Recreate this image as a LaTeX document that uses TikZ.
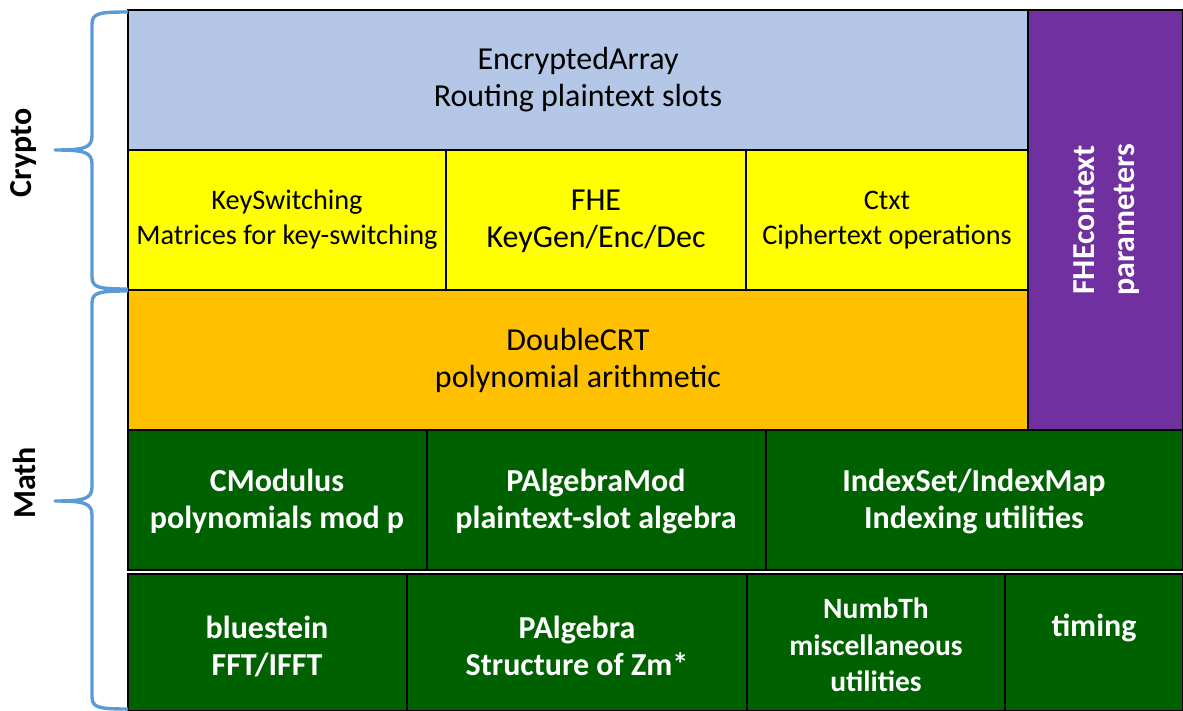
\documentclass[tikz,border=0pt]{standalone}
\usepackage{fontspec}
\setmainfont{Carlito}
\begin{document}
\begin{tikzpicture}[x=1pt,y=-1pt,
  cell/.style={draw=black,line width=1.6pt},
  lbl/.style={align=center,font=\fontsize{32}{37}\selectfont},
  slbl/.style={align=center,font=\fontsize{28.3}{35}\selectfont},
  glbl/.style={align=center,text=white,font=\fontsize{32}{37}\selectfont\bfseries},
  nlbl/.style={align=center,text=white,font=\fontsize{29.5}{36.5}\selectfont\bfseries},
  plbl/.style={align=center,text=white,font=\fontsize{32}{40}\selectfont\bfseries},
  brace/.style={draw=braceblue,line width=3.4pt,line join=round},
  side/.style={rotate=90,font=\fontsize{32}{36}\selectfont\bfseries}
]
\definecolor{lblue}{HTML}{B4C7E7}
\definecolor{yel}{HTML}{FFFF00}
\definecolor{orng}{HTML}{FFC000}
\definecolor{purp}{HTML}{7030A0}
\definecolor{grn}{HTML}{006100}
\definecolor{braceblue}{HTML}{5B9BD5}
\useasboundingbox (0,0) rectangle (1183,711);
% crypto layers
\filldraw[cell,fill=lblue] (128,10) rectangle (1028,150);
\node[lbl] (ea) at (578,80) {EncryptedArray\\Routing plaintext slots};
\filldraw[cell,fill=yel] (128,150) rectangle (446,290);
\filldraw[cell,fill=yel] (446,150) rectangle (746,290);
\filldraw[cell,fill=yel] (746,150) rectangle (1028,290);
\node[slbl] (ks) at (287,220) {KeySwitching\\Matrices for key-switching};
\node[lbl] (fhe) at (596,221) {FHE\\KeyGen/Enc/Dec};
\node[slbl] (ctxt) at (887,220) {Ctxt\\Ciphertext operations};
\filldraw[cell,fill=orng] (128,290) rectangle (1028,430);
\node[lbl] (dcrt) at (578,360) {DoubleCRT\\polynomial arithmetic};
\filldraw[cell,fill=purp] (1028,10) rectangle (1183,430);
\node[plbl,rotate=90] (ctx) at (1107,220) {FHEcontext\\parameters};
% math layers
\filldraw[cell,fill=grn] (128,430) rectangle (427,570);
\filldraw[cell,fill=grn] (427,430) rectangle (766,570);
\filldraw[cell,fill=grn] (766,430) rectangle (1183,570);
\node[glbl] (cmod) at (277,501) {CModulus\\polynomials mod p};
\node[glbl] (pam) at (596,501) {PAlgebraMod\\plaintext-slot algebra};
\node[glbl] (idx) at (974,501) {IndexSet/IndexMap\\Indexing utilities};
\filldraw[cell,fill=grn] (128,574) rectangle (407,711);
\filldraw[cell,fill=grn] (407,574) rectangle (747,711);
\filldraw[cell,fill=grn] (747,574) rectangle (1005,711);
\filldraw[cell,fill=grn] (1005,574) rectangle (1183,711);
\node[glbl] (blu) at (267,646) {bluestein\\FFT/IFFT};
\node[glbl] (pa) at (577,646) {PAlgebra\\Structure of Zm*};
\node[nlbl] (nt) at (876,645) {NumbTh\\miscellaneous\\utilities};
\node[glbl] (tim) at (1094,628) {timing};
% braces
\draw[brace] (128,12) .. controls (100,12) and (92,13) .. (92,24) -- (92,136)
  .. controls (92,148) and (84,150) .. (55,150)
  .. controls (84,150) and (92,152) .. (92,164) -- (92,277)
  .. controls (92,288) and (100,289) .. (128,289);
\draw[brace] (128,291) .. controls (100,291) and (92,292) .. (92,303) -- (92,487)
  .. controls (92,499) and (84,501) .. (55,501)
  .. controls (84,501) and (92,503) .. (92,515) -- (92,697)
  .. controls (92,708) and (100,709) .. (128,709);
\node[side] (crypto) at (24,153) {Crypto};
\node[side] (math) at (24,483) {Math};
\end{tikzpicture}
\end{document}
